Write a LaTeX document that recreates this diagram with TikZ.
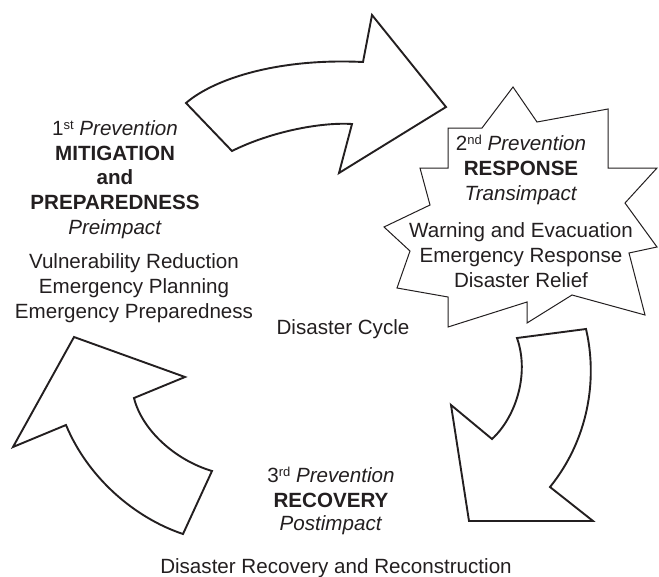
\documentclass[tikz,border=0pt]{standalone}
\usepackage{fontspec}
\setmainfont{Liberation Sans}
\definecolor{ink}{RGB}{35,31,32}
\newcommand\supx[1]{\raisebox{0.55ex}{\fontsize{13}{13}\selectfont #1}}
\tikzset{
  txt/.style={anchor=base, inner sep=0pt, text=ink, font=\fontsize{20.6}{25}\selectfont},
  bigarrow/.style={draw=ink, line width=1.9pt, line join=miter, fill=white},
  starshape/.style={draw=ink, line width=1pt, line join=miter, fill=white},
}
\begin{document}
\begin{tikzpicture}[x=1pt, y=-1pt]
\useasboundingbox (0,0) rectangle (659,576);
% top arrow
\draw[bigarrow] (186,103) .. controls (215,78) and (280,58) .. (363,62)
  -- (372,15) -- (446,107) -- (339,173) -- (352,124)
  .. controls (320,122) and (270,132) .. (232,151) -- cycle;
% right starburst
\draw[starshape] (625,203) -- (657,168) -- (608,168) -- (608,109) -- (537,122)
  -- (513,87) -- (482,128) -- (448,128) -- (448,168) -- (420,168) -- (430,205)
  -- (384,227) -- (410,251) -- (397,288) -- (448,297) -- (448,327) -- (527,302)
  -- (527,323) -- (572,295) -- (645,315) -- (629,253) -- (657,247) -- cycle;
% bottom-right arrow
\draw[bigarrow] (517,338) -- (586,329) .. controls (598,380) and (588,440) .. (550,487)
  -- (593,521) -- (469,521) -- (451,405) -- (492,439)
  .. controls (515,418) and (530,375) .. (517,338) -- cycle;
% left arrow
\draw[bigarrow] (74,337) -- (185,377) -- (134,398)
  .. controls (142,430) and (175,460) .. (212,471) -- (183,534)
  .. controls (135,518) and (88,478) .. (66,425) -- (13,447) -- cycle;
% left texts
\node[txt] (m1) at (115,135) {1\supx{st} \textit{Prevention}};
\node[txt] (m2) at (115,160) {\textbf{MITIGATION}};
\node[txt] (m3) at (115,184) {\textbf{and}};
\node[txt] (m4) at (115,209) {\textbf{PREPAREDNESS}};
\node[txt] (m5) at (115,234) {\textit{Preimpact}};
\node[txt] (m6) at (134,268) {Vulnerability Reduction};
\node[txt] (m7) at (134,293) {Emergency Planning};
\node[txt] (m8) at (134,318) {Emergency Preparedness};
% right texts
\node[txt] (r1) at (521,150) {2\supx{nd} \textit{Prevention}};
\node[txt] (r2) at (521,175) {\textbf{RESPONSE}};
\node[txt] (r3) at (521,200) {\textit{Transimpact}};
\node[txt] (r4) at (521,237) {Warning and Evacuation};
\node[txt] (r5) at (521,262) {Emergency Response};
\node[txt] (r6) at (521,287) {Disaster Relief};
% centre
\node[txt] (dc) at (343,334) {Disaster Cycle};
% bottom texts
\node[txt] (b1) at (331,482) {3\supx{rd} \textit{Prevention}};
\node[txt] (b2) at (331,507) {\textbf{RECOVERY}};
\node[txt] (b3) at (331,530) {\textit{Postimpact}};
\node[txt] (b4) at (336,573) {Disaster Recovery and Reconstruction};
\end{tikzpicture}
\end{document}
